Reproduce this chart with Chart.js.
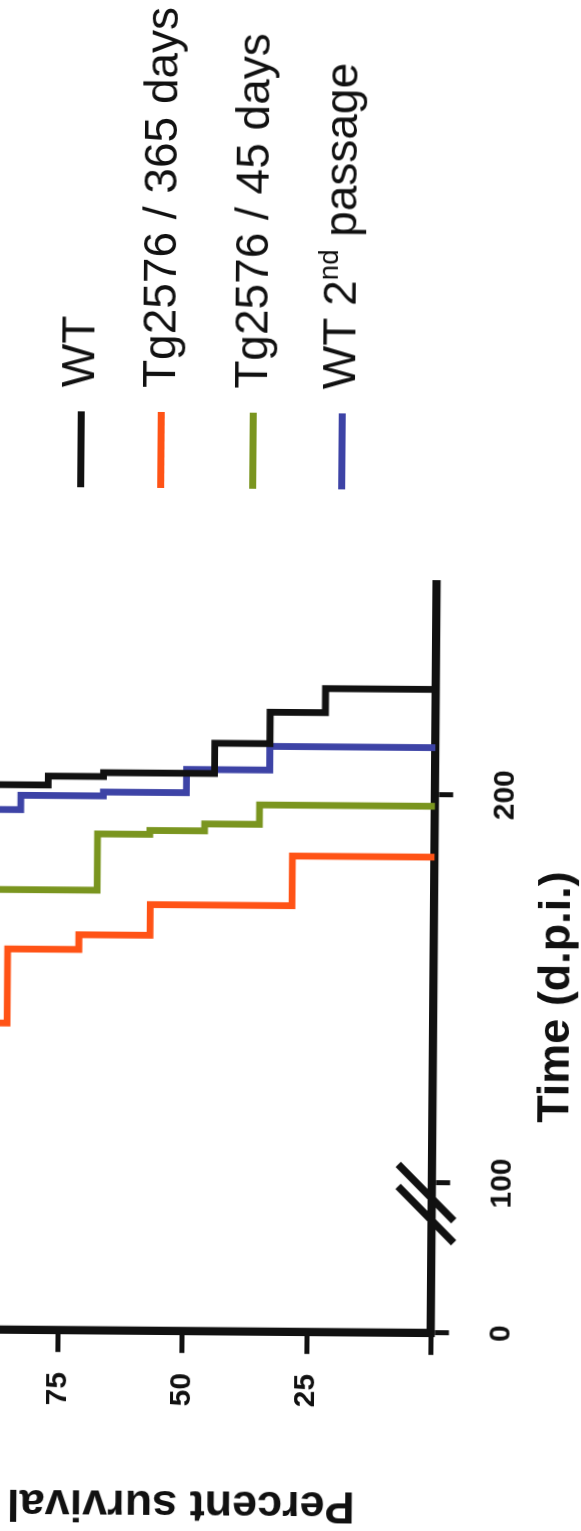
<!DOCTYPE html>
<html>
<head>
<meta charset="utf-8">
<title>Survival after inoculation</title>
<script src="https://cdn.jsdelivr.net/npm/chart.js@4.4.1/dist/chart.umd.min.js"></script>
<style>
  html, body { margin: 0; padding: 0; background: #fff; }
  body { width: 581px; height: 1531px; overflow: hidden; position: relative; }
  /* the printed figure sits a hair off square on the page */
  #page { position: absolute; left: 0; top: 0; width: 581px; height: 1531px;
          transform-origin: 290.5px 765.5px; transform: rotate(0.45deg); }
  /* the figure itself is laid out landscape and turned onto the portrait page */
  #figure { position: absolute; left: -100px; top: 1531px; width: 1531px; height: 681px;
            transform-origin: 0 0; transform: rotate(-90deg); }
  #figure canvas { position: absolute; left: 0; top: 0; }
  .legend-line { position: absolute; height: 7px; }
  .legend-text { position: absolute; font: 46px/46px 'Liberation Sans', Arial, sans-serif;
                 color: #111; white-space: nowrap; }
  .legend-text sup { font-size: 0.6em; vertical-align: 18px; line-height: 0; }
</style>
</head>
<body>
<div id="page">
  <div id="figure">
    <canvas id="survival" width="1531" height="681"></canvas>
  </div>
</div>
<script>
// ---- data: Kaplan-Meier steps (days post inoculation, % surviving) ----
const wtDays        = [0, 201.7, 204.0, 205.0, 212.8, 220.9, 227.1];
const wtSurvival    = [100, 77.8, 66.7, 44.4, 33.3, 22.2, 0];
const tg365Days     = [0, 140.3, 159.4, 163.2, 171.1, 183.9];
const tg365Survival = [100, 85.7, 71.4, 57.1, 28.6, 0];
const tg45Days      = [0, 174.7, 189.2, 190.2, 192.0, 197.0];
const tg45Survival  = [100, 67.8, 57.3, 46.3, 35.3, 0];
const wt2Days       = [0, 195.3, 199.0, 200.0, 206.0, 212.1];
const wt2Survival   = [100, 83.3, 66.7, 50.0, 33.3, 0];

const seriesNames  = ['WT', 'Tg2576 / 365 days', 'Tg2576 / 45 days', 'WT 2nd passage'];
const timeTicks     = [0, 100, 200];
const survivalTicks = [0, 25, 50, 75, 100];

// ---- styling / layout ----
const seriesColors = ['#111111', '#ff5316', '#7a951f', '#3d43a6'];
const INK = '#111111';
const FONT = "'Liberation Sans', Arial, Helvetica, sans-serif";
const TOP_OVERFLOW = 100;          // canvas runs past the top edge of the page
const legendRowCenters = [78.2, 158.6, 250.5, 339];

// Linear scale with a compressed segment before the axis break
class BrokenLinearScale extends Chart.LinearScale {
  _brk() { return this.options.axisBreak; }
  getPixelForValue(value) {
    const b = this._brk();
    let d;
    if (value <= b.at) d = b.share * (value - this.min) / (b.at - this.min);
    else d = b.share + (1 - b.share) * (value - b.at) / (this.max - b.at);
    return this.getPixelForDecimal(d);
  }
  getValueForPixel(pixel) {
    const b = this._brk();
    const d = this.getDecimalForPixel(pixel);
    if (d <= b.share) return this.min + d / b.share * (b.at - this.min);
    return b.at + (d - b.share) / (1 - b.share) * (this.max - b.at);
  }
}
BrokenLinearScale.id = 'brokenLinear';
BrokenLinearScale.defaults = Chart.LinearScale.defaults;
Chart.register(BrokenLinearScale);

// the "//" marks where the time axis is broken
const axisBreakMarks = {
  id: 'axisBreakMarks',
  afterDraw(chart) {
    const xs = chart.scales.x, ctx = chart.ctx;
    const cx = xs.getPixelForValue(xs.options.axisBreak.at);
    const cy = chart.chartArea.bottom;
    ctx.save();
    ctx.strokeStyle = INK;
    ctx.lineWidth = 7.5;
    ctx.lineCap = 'butt';
    [11, -11].forEach(dx => {
      ctx.beginPath();
      ctx.moveTo(cx + dx + 34, cy - 34);
      ctx.lineTo(cx + dx - 22, cy + 22);
      ctx.stroke();
    });
    ctx.restore();
  }
};

// time axis title, set a little left of the axis midpoint
const timeAxisTitle = {
  id: 'timeAxisTitle',
  afterDraw(chart) {
    const xs = chart.scales.x, ctx = chart.ctx;
    ctx.save();
    ctx.font = 'bold 45px ' + FONT;
    ctx.fillStyle = INK;
    ctx.textAlign = 'center';
    ctx.textBaseline = 'alphabetic';
    ctx.fillText('Time (d.p.i.)', xs.left + 0.448 * xs.width, chart.chartArea.bottom + 135.7);
    ctx.restore();
  }
};

function steps(days, surv) {
  return days.map((d, i) => ({ x: d, y: surv[i] }));
}
const seriesData = [
  steps(wtDays, wtSurvival),
  steps(tg365Days, tg365Survival),
  steps(tg45Days, tg45Survival),
  steps(wt2Days, wt2Survival)
];

const datasets = seriesNames.map((name, i) => ({
  label: name,
  data: seriesData[i],
  borderColor: seriesColors[i],
  backgroundColor: seriesColors[i],
  borderWidth: 6.8,
  stepped: 'before',
  pointRadius: 0,
  fill: false
}));

const tickFont = { family: FONT, size: 30, weight: 'bold' };

new Chart(document.getElementById('survival'), {
  type: 'line',
  data: { datasets },
  options: {
    responsive: false,
    animation: false,
    events: [],
    layout: { padding: { left: 0, top: TOP_OVERFLOW - 62.9, right: 580, bottom: 0 } },
    plugins: { legend: { display: false }, tooltip: { enabled: false } },
    scales: {
      x: {
        type: 'brokenLinear',
        min: 0,
        max: 255,
        axisBreak: { at: 93.1, share: 0.164 },
        afterFit: s => { s.height = 145.6; },
        afterBuildTicks: s => { s.ticks = timeTicks.map(value => ({ value })); },
        border: { display: true, width: 8.3, color: INK },
        grid: { drawOnChartArea: false, drawTicks: true, tickLength: 18, tickWidth: 5, tickColor: INK },
        ticks: { autoSkip: false, maxRotation: 0, minRotation: 0, padding: 34, color: INK, font: tickFont },
        title: { display: false }
      },
      y: {
        type: 'linear',
        min: 0,
        max: 100,
        afterFit: s => { s.width = 199.2; },
        afterBuildTicks: s => { s.ticks = survivalTicks.map(value => ({ value })); },
        border: { display: true, width: 8.3, color: INK },
        grid: { drawOnChartArea: false, drawTicks: true, tickLength: 22, tickWidth: 5, tickColor: INK },
        ticks: { padding: 20, color: INK, font: tickFont,
                 callback: v => (v === 0 ? '' : String(v)) },
        title: { display: true, text: 'Percent survival', color: INK,
                 font: { family: FONT, size: 45, weight: 'bold' }, padding: { top: 0, bottom: 0 } }
      }
    }
  },
  plugins: [axisBreakMarks, timeAxisTitle]
});

// legend, built from the series names and colours
const fig = document.getElementById('figure');
seriesNames.forEach((name, i) => {
  const cy = legendRowCenters[i] + TOP_OVERFLOW;
  const line = document.createElement('div');
  line.className = 'legend-line';
  line.style.left = '1042px';
  line.style.width = '76px';
  line.style.top = (cy - 3.5) + 'px';
  line.style.background = seriesColors[i];
  fig.appendChild(line);

  const text = document.createElement('div');
  text.className = 'legend-text';
  text.style.left = '1142px';
  text.style.top = (cy - 3.5 - 22.4) + 'px';
  text.innerHTML = name.replace(/(\d)(st|nd|rd|th)\b/, '$1<sup>$2</sup>');
  fig.appendChild(text);
});
</script>
</body>
</html>
